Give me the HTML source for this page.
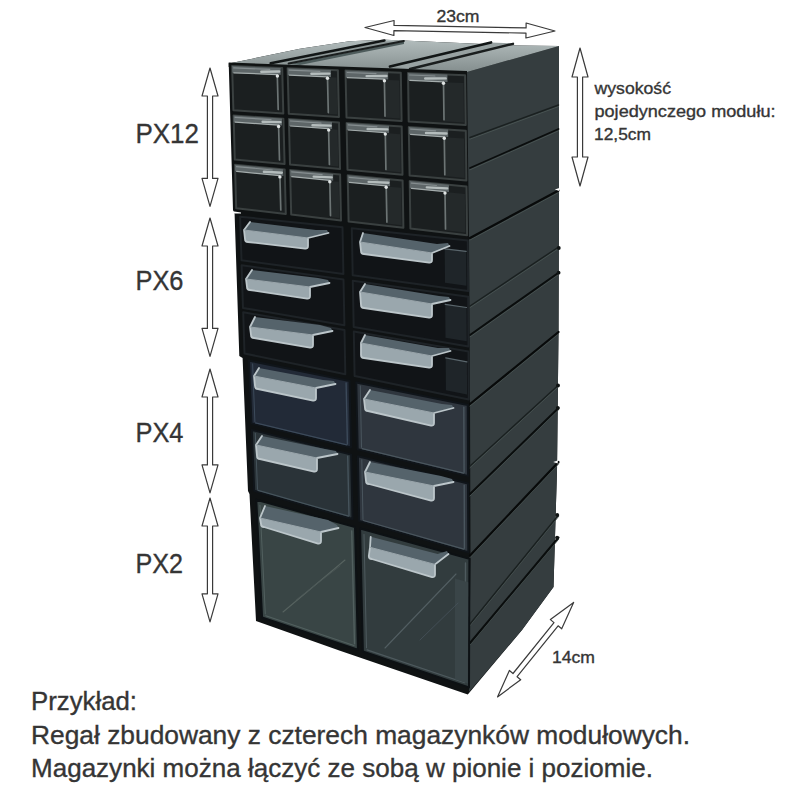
<!DOCTYPE html>
<html><head><meta charset="utf-8"><title>Regał</title>
<style>
html,body{margin:0;padding:0;background:#fff;width:800px;height:800px;overflow:hidden}
svg{display:block}
text{font-family:"Liberation Sans",sans-serif;fill:#353535;stroke:#353535;stroke-width:0.35px}
</style></head><body>
<svg width="800" height="800" viewBox="0 0 800 800">
<defs><linearGradient id="gtop" gradientUnits="userSpaceOnUse" x1="0" y1="40" x2="0" y2="72"><stop offset="0" stop-color="#b2bcbc"/><stop offset="1" stop-color="#848e8e"/></linearGradient></defs>
<rect width="800" height="800" fill="#fff"/>
<g id="cab">
<polygon points="228.7,63.0 233.0,210.0 234.6,214.0 239.3,356.0 242.6,358.0 248.0,491.0 249.5,494.0 256.0,621.0 340.0,650.8 467.8,694.5 522.0,630.0 553.5,587.0 557.0,470.0 558.5,332.0 559.0,190.0 559.0,46.0 515.0,45.5 460.0,42.9 385.5,39.8 349.5,41.2 300.0,48.8 229.0,63.5" fill="#0f1213" />
<polygon points="232.5,211.2 241.0,212.6 241.0,213.6 233.5,213.4" fill="#ffffff" />
<polygon points="467.0,72.0 559.0,46.0 559.0,190.0 558.5,332.0 557.0,470.0 553.5,587.0 522.0,630.0 469.0,692.0 470.5,555.0 470.0,404.0 469.0,238.0" fill="#353d3f" />
<polygon points="229.0,63.5 300.0,48.8 349.5,41.2 385.5,39.8 460.0,42.9 515.0,45.5 559.0,46.0 467.0,72.0 228.7,64.0" fill="url(#gtop)" />
<polygon points="273.0,63.5 386.0,41.5 403.0,41.5 288.7,63.5" fill="#8c9696" />
<polygon points="392.0,66.0 491.0,42.5 513.0,43.5 410.0,69.0" fill="#98a2a2" />
<polygon points="290.0,64.0 404.0,41.5 404.0,44.0 300.0,65.0" fill="#4e5c5c" />
<line x1="270.7" y1="63.3" x2="384.4" y2="40.6" stroke="#121616" stroke-width="2.6" stroke-linecap="round" />
<line x1="288.7" y1="63.5" x2="403.8" y2="41.0" stroke="#1a1e1e" stroke-width="2.2" stroke-linecap="round" />
<line x1="390.0" y1="66.5" x2="491.0" y2="42.5" stroke="#121616" stroke-width="2.8" stroke-linecap="round" />
<line x1="410.0" y1="69.0" x2="513.0" y2="43.8" stroke="#1a1e1e" stroke-width="2.4" stroke-linecap="round" />
<polygon points="228.7,62.5 467.0,71.0 467.0,75.0 228.7,67.0" fill="#101313" />
<line x1="470.0" y1="139.1" x2="558.5" y2="106.6" stroke="#475251" stroke-width="1.0" stroke-linecap="round" />
<line x1="470.0" y1="137.5" x2="558.5" y2="105.0" stroke="#1a2020" stroke-width="1.4" stroke-linecap="round" />
<line x1="470.0" y1="169.8" x2="558.5" y2="130.8" stroke="#475251" stroke-width="1.0" stroke-linecap="round" />
<line x1="470.0" y1="168.0" x2="558.5" y2="129.0" stroke="#0a0d0d" stroke-width="1.8" stroke-linecap="round" />
<line x1="470.0" y1="240.0" x2="558.5" y2="192.5" stroke="#475251" stroke-width="1.0" stroke-linecap="round" />
<line x1="470.0" y1="238.0" x2="558.5" y2="190.5" stroke="#080a0a" stroke-width="2.2" stroke-linecap="round" />
<line x1="470.0" y1="307.6" x2="558.5" y2="248.6" stroke="#475251" stroke-width="1.0" stroke-linecap="round" />
<line x1="470.0" y1="306.0" x2="558.5" y2="247.0" stroke="#1a2020" stroke-width="1.4" stroke-linecap="round" />
<line x1="470.0" y1="336.9" x2="558.5" y2="274.6" stroke="#475251" stroke-width="1.0" stroke-linecap="round" />
<line x1="470.0" y1="335.0" x2="558.5" y2="272.7" stroke="#0a0d0d" stroke-width="2.0" stroke-linecap="round" />
<line x1="470.0" y1="406.0" x2="558.5" y2="334.0" stroke="#475251" stroke-width="1.0" stroke-linecap="round" />
<line x1="470.0" y1="404.0" x2="558.5" y2="332.0" stroke="#080a0a" stroke-width="2.2" stroke-linecap="round" />
<line x1="470.0" y1="467.6" x2="558.5" y2="386.6" stroke="#475251" stroke-width="1.0" stroke-linecap="round" />
<line x1="470.0" y1="466.0" x2="558.5" y2="385.0" stroke="#1a2020" stroke-width="1.4" stroke-linecap="round" />
<line x1="470.0" y1="495.9" x2="558.5" y2="409.9" stroke="#475251" stroke-width="1.0" stroke-linecap="round" />
<line x1="470.0" y1="494.0" x2="558.5" y2="408.0" stroke="#0a0d0d" stroke-width="2.0" stroke-linecap="round" />
<line x1="470.0" y1="557.5" x2="558.5" y2="464.0" stroke="#475251" stroke-width="1.0" stroke-linecap="round" />
<line x1="470.0" y1="555.5" x2="558.5" y2="462.0" stroke="#080a0a" stroke-width="2.2" stroke-linecap="round" />
<line x1="470.0" y1="625.6" x2="558.5" y2="516.6" stroke="#475251" stroke-width="1.0" stroke-linecap="round" />
<line x1="470.0" y1="624.0" x2="558.5" y2="515.0" stroke="#1a2020" stroke-width="1.4" stroke-linecap="round" />
<line x1="470.0" y1="644.9" x2="558.5" y2="539.4" stroke="#475251" stroke-width="1.0" stroke-linecap="round" />
<line x1="470.0" y1="643.0" x2="558.5" y2="537.5" stroke="#0a0d0d" stroke-width="2.0" stroke-linecap="round" />
<circle cx="558.8" cy="248.0" r="1.9" fill="#101414"/>
<circle cx="558.6" cy="272.7" r="1.9" fill="#101414"/>
<circle cx="558.0" cy="385.5" r="1.9" fill="#101414"/>
<circle cx="557.8" cy="408.0" r="1.9" fill="#101414"/>
<circle cx="557.2" cy="515.0" r="1.9" fill="#101414"/>
<circle cx="557.0" cy="537.7" r="1.9" fill="#101414"/>
<polygon points="559.3,187.9 554.8,189.5 559.3,191.1" fill="#ffffff" />
<polygon points="557.7,460.4 553.2,462.0 557.7,463.6" fill="#ffffff" />
<polygon points="232.1,66.1 282.2,68.0 283.3,113.4 233.4,110.3" fill="#1b1f20" stroke="#3a4040" stroke-width="2.0" stroke-linejoin="round" />
<polygon points="232.1,66.1 280.7,68.0 280.8,74.8 232.3,72.7" fill="#5e6668" />
<line x1="233.7" y1="67.9" x2="269.7" y2="69.4" stroke="#858d8f" stroke-width="1.2" stroke-linecap="round" />
<line x1="261.3" y1="71.7" x2="279.2" y2="71.5" stroke="#b4bcbc" stroke-width="2.4" stroke-linecap="round" />
<line x1="233.8" y1="72.8" x2="277.3" y2="74.6" stroke="#a4acac" stroke-width="1.2" stroke-linecap="round" />
<line x1="277.3" y1="75.5" x2="278.2" y2="109.5" stroke="#6c7474" stroke-width="1.7" stroke-linecap="round" />
<circle cx="277.4" cy="76.0" r="1.7" fill="#e0e4e4"/>
<polygon points="287.6,68.3 337.9,70.2 338.9,116.9 288.8,113.8" fill="#1b1f20" stroke="#3a4040" stroke-width="2.0" stroke-linejoin="round" />
<polygon points="327.5,77.3 336.6,77.6 337.3,114.5 328.3,114.0" fill="#24292a" />
<polygon points="287.6,68.3 330.9,70.0 331.0,76.9 287.8,75.1" fill="#5e6668" />
<line x1="289.2" y1="70.1" x2="319.8" y2="71.4" stroke="#858d8f" stroke-width="1.2" stroke-linecap="round" />
<line x1="311.4" y1="73.8" x2="329.4" y2="73.6" stroke="#b4bcbc" stroke-width="2.4" stroke-linecap="round" />
<line x1="289.3" y1="75.1" x2="327.5" y2="76.8" stroke="#a4acac" stroke-width="1.2" stroke-linecap="round" />
<line x1="327.5" y1="77.7" x2="328.3" y2="112.6" stroke="#6c7474" stroke-width="1.7" stroke-linecap="round" />
<circle cx="327.5" cy="78.2" r="1.7" fill="#e0e4e4"/>
<polygon points="345.5,70.5 400.8,72.7 401.6,120.9 346.5,117.4" fill="#1b1f20" stroke="#3a4040" stroke-width="2.0" stroke-linejoin="round" />
<polygon points="384.4,79.7 399.3,80.4 399.9,118.4 385.0,117.5" fill="#24292a" />
<polygon points="345.5,70.5 388.1,72.2 388.2,79.4 345.7,77.6" fill="#5e6668" />
<line x1="347.2" y1="72.5" x2="376.0" y2="73.6" stroke="#858d8f" stroke-width="1.2" stroke-linecap="round" />
<line x1="366.6" y1="76.1" x2="386.5" y2="76.0" stroke="#b4bcbc" stroke-width="2.4" stroke-linecap="round" />
<line x1="347.3" y1="77.6" x2="384.3" y2="79.2" stroke="#a4acac" stroke-width="1.2" stroke-linecap="round" />
<line x1="384.4" y1="80.2" x2="385.0" y2="116.1" stroke="#6c7474" stroke-width="1.7" stroke-linecap="round" />
<circle cx="384.4" cy="80.7" r="1.7" fill="#e0e4e4"/>
<polygon points="408.0,73.0 465.1,75.2 465.7,125.0 408.7,121.4" fill="#1b1f20" stroke="#3a4040" stroke-width="2.0" stroke-linejoin="round" />
<polygon points="443.5,82.3 463.5,83.1 464.0,122.4 444.0,121.2" fill="#24292a" />
<polygon points="408.0,73.0 447.4,74.5 447.5,81.9 408.1,80.3" fill="#5e6668" />
<line x1="409.7" y1="75.0" x2="434.9" y2="76.0" stroke="#858d8f" stroke-width="1.2" stroke-linecap="round" />
<line x1="425.2" y1="78.5" x2="445.7" y2="78.4" stroke="#b4bcbc" stroke-width="2.4" stroke-linecap="round" />
<line x1="409.8" y1="80.3" x2="443.5" y2="81.8" stroke="#a4acac" stroke-width="1.2" stroke-linecap="round" />
<line x1="443.5" y1="82.8" x2="444.0" y2="119.7" stroke="#6c7474" stroke-width="1.7" stroke-linecap="round" />
<circle cx="443.5" cy="83.3" r="1.7" fill="#e0e4e4"/>
<polygon points="233.6,115.4 283.4,118.7 284.6,164.1 234.8,159.6" fill="#1b1f20" stroke="#3a4040" stroke-width="2.0" stroke-linejoin="round" />
<polygon points="233.6,115.4 281.9,118.6 282.1,125.4 233.7,122.0" fill="#5e6668" />
<line x1="235.1" y1="117.3" x2="271.0" y2="119.7" stroke="#858d8f" stroke-width="1.2" stroke-linecap="round" />
<line x1="262.6" y1="121.8" x2="280.5" y2="122.1" stroke="#b4bcbc" stroke-width="2.4" stroke-linecap="round" />
<line x1="235.2" y1="122.1" x2="278.6" y2="125.2" stroke="#a4acac" stroke-width="1.2" stroke-linecap="round" />
<line x1="278.6" y1="126.1" x2="279.5" y2="160.0" stroke="#6c7474" stroke-width="1.7" stroke-linecap="round" />
<circle cx="278.6" cy="126.5" r="1.7" fill="#e0e4e4"/>
<polygon points="288.9,119.1 339.0,122.4 340.0,169.1 290.0,164.6" fill="#1b1f20" stroke="#3a4040" stroke-width="2.0" stroke-linejoin="round" />
<polygon points="328.6,129.1 337.6,129.8 338.4,166.6 329.4,165.8" fill="#24292a" />
<polygon points="288.9,119.1 332.0,121.9 332.1,128.9 289.1,125.9" fill="#5e6668" />
<line x1="290.4" y1="121.0" x2="321.0" y2="123.1" stroke="#858d8f" stroke-width="1.2" stroke-linecap="round" />
<line x1="312.5" y1="125.2" x2="330.6" y2="125.6" stroke="#b4bcbc" stroke-width="2.4" stroke-linecap="round" />
<line x1="290.6" y1="126.0" x2="328.6" y2="128.7" stroke="#a4acac" stroke-width="1.2" stroke-linecap="round" />
<line x1="328.6" y1="129.6" x2="329.4" y2="164.4" stroke="#6c7474" stroke-width="1.7" stroke-linecap="round" />
<circle cx="328.7" cy="130.1" r="1.7" fill="#e0e4e4"/>
<polygon points="346.6,122.9 401.7,126.6 402.5,174.8 347.5,169.8" fill="#1b1f20" stroke="#3a4040" stroke-width="2.0" stroke-linejoin="round" />
<polygon points="385.3,133.1 400.2,134.2 400.8,172.2 386.0,170.9" fill="#24292a" />
<polygon points="346.6,122.9 389.0,125.7 389.1,132.9 346.7,129.9" fill="#5e6668" />
<line x1="348.3" y1="124.9" x2="376.9" y2="126.8" stroke="#858d8f" stroke-width="1.2" stroke-linecap="round" />
<line x1="367.6" y1="129.0" x2="387.4" y2="129.4" stroke="#b4bcbc" stroke-width="2.4" stroke-linecap="round" />
<line x1="348.4" y1="130.0" x2="385.3" y2="132.6" stroke="#a4acac" stroke-width="1.2" stroke-linecap="round" />
<line x1="385.3" y1="133.6" x2="385.9" y2="169.5" stroke="#6c7474" stroke-width="1.7" stroke-linecap="round" />
<circle cx="385.3" cy="134.1" r="1.7" fill="#e0e4e4"/>
<polygon points="408.8,127.0 465.8,130.8 466.4,180.6 409.6,175.4" fill="#1b1f20" stroke="#3a4040" stroke-width="2.0" stroke-linejoin="round" />
<polygon points="444.3,137.2 464.2,138.6 464.7,177.9 444.8,176.1" fill="#24292a" />
<polygon points="408.8,127.0 448.1,129.6 448.2,137.0 408.9,134.3" fill="#5e6668" />
<line x1="410.6" y1="129.1" x2="435.6" y2="130.8" stroke="#858d8f" stroke-width="1.2" stroke-linecap="round" />
<line x1="426.0" y1="133.0" x2="446.5" y2="133.5" stroke="#b4bcbc" stroke-width="2.4" stroke-linecap="round" />
<line x1="410.6" y1="134.4" x2="444.3" y2="136.8" stroke="#a4acac" stroke-width="1.2" stroke-linecap="round" />
<line x1="444.3" y1="137.7" x2="444.8" y2="174.7" stroke="#6c7474" stroke-width="1.7" stroke-linecap="round" />
<circle cx="444.3" cy="138.2" r="1.7" fill="#e0e4e4"/>
<polygon points="235.0,164.7 284.7,169.4 285.8,214.0 236.2,208.2" fill="#1b1f20" stroke="#3a4040" stroke-width="2.0" stroke-linejoin="round" />
<polygon points="235.0,164.7 283.2,169.2 283.4,175.9 235.2,171.3" fill="#5e6668" />
<line x1="236.5" y1="166.6" x2="272.3" y2="170.0" stroke="#858d8f" stroke-width="1.2" stroke-linecap="round" />
<line x1="263.9" y1="171.8" x2="281.8" y2="172.7" stroke="#b4bcbc" stroke-width="2.4" stroke-linecap="round" />
<line x1="236.7" y1="171.4" x2="279.9" y2="175.6" stroke="#a4acac" stroke-width="1.2" stroke-linecap="round" />
<line x1="279.9" y1="176.5" x2="280.8" y2="209.9" stroke="#6c7474" stroke-width="1.7" stroke-linecap="round" />
<circle cx="279.9" cy="176.9" r="1.7" fill="#e0e4e4"/>
<polygon points="290.1,169.9 340.1,174.6 341.0,220.5 291.2,214.6" fill="#1b1f20" stroke="#3a4040" stroke-width="2.0" stroke-linejoin="round" />
<polygon points="329.8,180.9 338.7,181.8 339.5,218.0 330.5,217.0" fill="#24292a" />
<polygon points="290.1,169.9 333.1,173.9 333.2,180.8 290.3,176.6" fill="#5e6668" />
<line x1="291.7" y1="171.8" x2="322.1" y2="174.7" stroke="#858d8f" stroke-width="1.2" stroke-linecap="round" />
<line x1="313.7" y1="176.6" x2="331.7" y2="177.4" stroke="#b4bcbc" stroke-width="2.4" stroke-linecap="round" />
<line x1="291.8" y1="176.7" x2="329.7" y2="180.4" stroke="#a4acac" stroke-width="1.2" stroke-linecap="round" />
<line x1="329.8" y1="181.3" x2="330.5" y2="215.6" stroke="#6c7474" stroke-width="1.7" stroke-linecap="round" />
<circle cx="329.8" cy="181.8" r="1.7" fill="#e0e4e4"/>
<polygon points="347.7,175.3 402.6,180.4 403.4,227.8 348.6,221.4" fill="#1b1f20" stroke="#3a4040" stroke-width="2.0" stroke-linejoin="round" />
<polygon points="386.2,186.4 401.1,187.8 401.7,225.2 386.9,223.5" fill="#24292a" />
<polygon points="347.7,175.3 389.9,179.2 390.1,186.3 347.8,182.2" fill="#5e6668" />
<line x1="349.3" y1="177.3" x2="377.9" y2="180.0" stroke="#858d8f" stroke-width="1.2" stroke-linecap="round" />
<line x1="368.6" y1="181.9" x2="388.4" y2="182.8" stroke="#b4bcbc" stroke-width="2.4" stroke-linecap="round" />
<line x1="349.4" y1="182.3" x2="386.2" y2="185.9" stroke="#a4acac" stroke-width="1.2" stroke-linecap="round" />
<line x1="386.2" y1="186.8" x2="386.9" y2="222.1" stroke="#6c7474" stroke-width="1.7" stroke-linecap="round" />
<circle cx="386.2" cy="187.3" r="1.7" fill="#e0e4e4"/>
<polygon points="409.7,181.1 466.5,186.4 467.1,235.3 410.4,228.6" fill="#1b1f20" stroke="#3a4040" stroke-width="2.0" stroke-linejoin="round" />
<polygon points="445.0,192.1 464.9,194.0 465.4,232.6 445.5,230.3" fill="#24292a" />
<polygon points="409.7,181.1 448.9,184.7 449.0,192.0 409.8,188.2" fill="#5e6668" />
<line x1="411.4" y1="183.1" x2="436.4" y2="185.5" stroke="#858d8f" stroke-width="1.2" stroke-linecap="round" />
<line x1="426.8" y1="187.4" x2="447.2" y2="188.4" stroke="#b4bcbc" stroke-width="2.4" stroke-linecap="round" />
<line x1="411.5" y1="188.4" x2="445.0" y2="191.6" stroke="#a4acac" stroke-width="1.2" stroke-linecap="round" />
<line x1="445.0" y1="192.6" x2="445.5" y2="228.9" stroke="#6c7474" stroke-width="1.7" stroke-linecap="round" />
<circle cx="445.0" cy="193.1" r="1.7" fill="#e0e4e4"/>
<polygon points="240.1,216.7 342.5,227.3 343.4,274.0 241.5,260.2" fill="#111417" stroke="#1e2327" stroke-width="2.0" stroke-linejoin="round" />
<polygon points="241.6,265.2 343.5,279.4 344.4,325.3 243.0,307.9" fill="#111417" stroke="#1e2327" stroke-width="2.0" stroke-linejoin="round" />
<polygon points="243.2,312.2 344.5,329.9 345.3,374.3 244.5,353.5" fill="#111417" stroke="#1e2327" stroke-width="2.0" stroke-linejoin="round" />
<polygon points="351.8,228.3 467.8,240.4 468.2,291.0 352.7,275.3" fill="#111417" stroke="#1e2327" stroke-width="2.0" stroke-linejoin="round" />
<polygon points="352.8,280.7 468.2,296.8 468.5,346.5 353.7,326.9" fill="#111417" stroke="#1e2327" stroke-width="2.0" stroke-linejoin="round" />
<polygon points="353.8,331.5 468.5,351.5 468.8,399.6 354.6,376.1" fill="#111417" stroke="#1e2327" stroke-width="2.0" stroke-linejoin="round" />
<polygon points="444.7,248.9 466.2,251.3 466.4,285.7 445.0,282.8" fill="#1f2529" />
<line x1="444.7" y1="248.9" x2="466.2" y2="251.3" stroke="#5a666c" stroke-width="1.2" stroke-linecap="round" />
<polygon points="445.2,304.3 466.5,307.5 466.7,341.3 445.5,337.7" fill="#1f2529" />
<line x1="445.2" y1="304.3" x2="466.5" y2="307.5" stroke="#5a666c" stroke-width="1.2" stroke-linecap="round" />
<polygon points="445.7,357.9 466.9,361.8 467.1,394.5 445.9,390.2" fill="#1f2529" />
<line x1="445.7" y1="357.9" x2="466.9" y2="361.8" stroke="#5a666c" stroke-width="1.2" stroke-linecap="round" />
<polygon points="250.0,222.0 316.0,230.0 327.0,230.0 328.5,233.0 311.0,237.0 308.0,238.0 244.0,230.0" fill="#55636b" />
<path d="M244.0,230.0 L308.0,238.0 L308.0,246.0 Q308.0,249.0 305.0,248.6 L248.0,242.0 Q245.0,242.0 245.0,239.0 Z" fill="#9aa7ad" />
<path d="M250.0,222.0 L244.0,230.0 L245.0,239.0 Q245.0,242.0 248.0,242.0 L305.0,248.6 Q308.0,249.0 308.0,246.0 L308.0,238.0 L328.5,233.0" fill="none" stroke="#bcc6ca" stroke-width="1.8" stroke-linejoin="round" stroke-linecap="round" />
<line x1="244.0" y1="230.0" x2="308.0" y2="238.0" stroke="#9aa6ac" stroke-width="1.0" stroke-linecap="round" />
<polygon points="252.0,270.0 318.0,278.0 328.0,280.0 329.5,283.0 313.0,286.0 310.0,287.0 246.0,279.0" fill="#55636b" />
<path d="M246.0,279.0 L310.0,287.0 L310.0,296.0 Q310.0,299.0 307.0,298.6 L250.0,290.0 Q247.0,290.0 247.0,287.0 Z" fill="#9aa7ad" />
<path d="M252.0,270.0 L246.0,279.0 L247.0,287.0 Q247.0,290.0 250.0,290.0 L307.0,298.6 Q310.0,299.0 310.0,296.0 L310.0,287.0 L329.5,283.0" fill="none" stroke="#bcc6ca" stroke-width="1.8" stroke-linejoin="round" stroke-linecap="round" />
<line x1="246.0" y1="279.0" x2="310.0" y2="287.0" stroke="#9aa6ac" stroke-width="1.0" stroke-linecap="round" />
<polygon points="255.0,317.0 320.0,325.0 331.0,328.0 332.5,331.0 316.0,334.0 313.0,335.0 250.0,327.0" fill="#55636b" />
<path d="M250.0,327.0 L313.0,335.0 L313.0,345.0 Q313.0,348.0 310.0,347.6 L254.0,338.0 Q251.0,338.0 251.0,335.0 Z" fill="#9aa7ad" />
<path d="M255.0,317.0 L250.0,327.0 L251.0,335.0 Q251.0,338.0 254.0,338.0 L310.0,347.6 Q313.0,348.0 313.0,345.0 L313.0,335.0 L332.5,331.0" fill="none" stroke="#bcc6ca" stroke-width="1.8" stroke-linejoin="round" stroke-linecap="round" />
<line x1="250.0" y1="327.0" x2="313.0" y2="335.0" stroke="#9aa6ac" stroke-width="1.0" stroke-linecap="round" />
<polygon points="363.0,233.0 437.0,244.0 448.0,243.0 449.5,246.0 435.0,252.0 432.0,253.0 360.0,242.0" fill="#55636b" />
<path d="M360.0,242.0 L432.0,253.0 L432.0,260.0 Q432.0,263.0 429.0,262.6 L364.0,254.0 Q361.0,254.0 361.0,251.0 Z" fill="#9aa7ad" />
<path d="M363.0,233.0 L360.0,242.0 L361.0,251.0 Q361.0,254.0 364.0,254.0 L429.0,262.6 Q432.0,263.0 432.0,260.0 L432.0,253.0 L449.5,246.0" fill="none" stroke="#bcc6ca" stroke-width="1.8" stroke-linejoin="round" stroke-linecap="round" />
<line x1="360.0" y1="242.0" x2="432.0" y2="253.0" stroke="#9aa6ac" stroke-width="1.0" stroke-linecap="round" />
<polygon points="365.0,284.0 439.0,296.0 449.0,297.0 450.5,300.0 435.0,303.0 432.0,304.0 360.0,292.0" fill="#55636b" />
<path d="M360.0,292.0 L432.0,304.0 L432.0,315.0 Q432.0,318.0 429.0,317.6 L364.0,308.0 Q361.0,308.0 361.0,305.0 Z" fill="#9aa7ad" />
<path d="M365.0,284.0 L360.0,292.0 L361.0,305.0 Q361.0,308.0 364.0,308.0 L429.0,317.6 Q432.0,318.0 432.0,315.0 L432.0,304.0 L450.5,300.0" fill="none" stroke="#bcc6ca" stroke-width="1.8" stroke-linejoin="round" stroke-linecap="round" />
<line x1="360.0" y1="292.0" x2="432.0" y2="304.0" stroke="#9aa6ac" stroke-width="1.0" stroke-linecap="round" />
<polygon points="365.0,335.0 438.0,348.0 449.0,348.0 450.5,351.0 435.0,355.0 432.0,356.0 361.0,343.0" fill="#55636b" />
<path d="M361.0,343.0 L432.0,356.0 L432.0,365.0 Q432.0,368.0 429.0,367.6 L364.0,358.0 Q361.0,358.0 361.0,355.0 Z" fill="#9aa7ad" />
<path d="M365.0,335.0 L361.0,343.0 L361.0,355.0 Q361.0,358.0 364.0,358.0 L429.0,367.6 Q432.0,368.0 432.0,365.0 L432.0,356.0 L450.5,351.0" fill="none" stroke="#bcc6ca" stroke-width="1.8" stroke-linejoin="round" stroke-linecap="round" />
<line x1="361.0" y1="343.0" x2="432.0" y2="356.0" stroke="#9aa6ac" stroke-width="1.0" stroke-linecap="round" />
<polygon points="249.0,360.6 349.5,381.0 351.0,447.5 251.5,423.4" fill="#222a37" stroke="#10151a" stroke-width="2.0" stroke-linejoin="round" />
<line x1="346.1" y1="383.0" x2="347.4" y2="444.0" stroke="#3c4a5a" stroke-width="1.4" stroke-linecap="round" />
<line x1="252.6" y1="363.9" x2="254.9" y2="421.7" stroke="#3c4a5a" stroke-width="1.0" stroke-linecap="round" />
<line x1="255.4" y1="422.8" x2="346.9" y2="444.9" stroke="#3c4a5a" stroke-width="1.2" stroke-linecap="round" />
<polygon points="251.8,430.0 351.1,454.6 352.5,519.0 254.2,490.8" fill="#2a3338" stroke="#10151a" stroke-width="2.0" stroke-linejoin="round" />
<line x1="347.7" y1="456.3" x2="349.0" y2="515.4" stroke="#46545c" stroke-width="1.4" stroke-linecap="round" />
<line x1="255.3" y1="433.3" x2="257.5" y2="489.3" stroke="#46545c" stroke-width="1.0" stroke-linecap="round" />
<line x1="258.0" y1="490.4" x2="348.6" y2="516.2" stroke="#46545c" stroke-width="1.2" stroke-linecap="round" />
<polygon points="356.3,382.4 467.7,405.0 468.0,475.9 357.7,449.2" fill="#2f363e" stroke="#10151a" stroke-width="2.0" stroke-linejoin="round" />
<line x1="463.8" y1="407.1" x2="464.1" y2="472.2" stroke="#4a565e" stroke-width="1.4" stroke-linecap="round" />
<line x1="360.3" y1="385.9" x2="361.5" y2="447.4" stroke="#4a565e" stroke-width="1.0" stroke-linecap="round" />
<line x1="362.1" y1="448.6" x2="463.6" y2="473.1" stroke="#4a565e" stroke-width="1.2" stroke-linecap="round" />
<polygon points="357.9,456.3 468.0,483.5 468.3,552.1 359.2,520.9" fill="#2f363e" stroke="#10151a" stroke-width="2.0" stroke-linejoin="round" />
<line x1="464.2" y1="485.3" x2="464.4" y2="548.3" stroke="#4a565e" stroke-width="1.4" stroke-linecap="round" />
<line x1="361.8" y1="459.8" x2="363.0" y2="519.4" stroke="#4a565e" stroke-width="1.0" stroke-linecap="round" />
<line x1="363.5" y1="520.5" x2="463.9" y2="549.1" stroke="#4a565e" stroke-width="1.2" stroke-linecap="round" />
<polygon points="259.0,368.0 323.0,380.0 334.0,381.0 335.5,384.0 319.0,387.0 316.0,388.0 254.0,376.0" fill="#55636b" />
<path d="M254.0,376.0 L316.0,388.0 L316.0,398.0 Q316.0,401.0 313.0,400.6 L258.0,389.0 Q255.0,389.0 255.0,386.0 Z" fill="#9aa7ad" />
<path d="M259.0,368.0 L254.0,376.0 L255.0,386.0 Q255.0,389.0 258.0,389.0 L313.0,400.6 Q316.0,401.0 316.0,398.0 L316.0,388.0 L335.5,384.0" fill="none" stroke="#bcc6ca" stroke-width="1.8" stroke-linejoin="round" stroke-linecap="round" />
<line x1="254.0" y1="376.0" x2="316.0" y2="388.0" stroke="#9aa6ac" stroke-width="1.0" stroke-linecap="round" />
<polygon points="262.0,436.0 325.0,449.0 336.0,451.0 337.5,454.0 320.0,457.0 317.0,458.0 256.0,445.0" fill="#55636b" />
<path d="M256.0,445.0 L317.0,458.0 L317.0,469.0 Q317.0,472.0 314.0,471.6 L260.0,459.0 Q257.0,459.0 257.0,456.0 Z" fill="#9aa7ad" />
<path d="M262.0,436.0 L256.0,445.0 L257.0,456.0 Q257.0,459.0 260.0,459.0 L314.0,471.6 Q317.0,472.0 317.0,469.0 L317.0,458.0 L337.5,454.0" fill="none" stroke="#bcc6ca" stroke-width="1.8" stroke-linejoin="round" stroke-linecap="round" />
<line x1="256.0" y1="445.0" x2="317.0" y2="458.0" stroke="#9aa6ac" stroke-width="1.0" stroke-linecap="round" />
<polygon points="370.0,390.0 442.0,404.0 452.0,405.0 453.5,408.0 437.0,412.0 434.0,413.0 364.0,399.0" fill="#55636b" />
<path d="M364.0,399.0 L434.0,413.0 L434.0,423.0 Q434.0,426.0 431.0,425.6 L368.0,411.0 Q365.0,411.0 365.0,408.0 Z" fill="#9aa7ad" />
<path d="M370.0,390.0 L364.0,399.0 L365.0,408.0 Q365.0,411.0 368.0,411.0 L431.0,425.6 Q434.0,426.0 434.0,423.0 L434.0,413.0 L453.5,408.0" fill="none" stroke="#bcc6ca" stroke-width="1.8" stroke-linejoin="round" stroke-linecap="round" />
<line x1="364.0" y1="399.0" x2="434.0" y2="413.0" stroke="#9aa6ac" stroke-width="1.0" stroke-linecap="round" />
<polygon points="370.0,462.0 441.0,476.0 452.0,479.0 453.5,482.0 437.0,485.0 434.0,486.0 365.0,472.0" fill="#55636b" />
<path d="M365.0,472.0 L434.0,486.0 L434.0,498.0 Q434.0,501.0 431.0,500.6 L369.0,484.0 Q366.0,484.0 366.0,481.0 Z" fill="#9aa7ad" />
<path d="M370.0,462.0 L365.0,472.0 L366.0,481.0 Q366.0,484.0 369.0,484.0 L431.0,500.6 Q434.0,501.0 434.0,498.0 L434.0,486.0 L453.5,482.0" fill="none" stroke="#bcc6ca" stroke-width="1.8" stroke-linejoin="round" stroke-linecap="round" />
<line x1="365.0" y1="472.0" x2="434.0" y2="486.0" stroke="#9aa6ac" stroke-width="1.0" stroke-linecap="round" />
<polygon points="256.3,499.7 355.0,527.1 357.9,649.8 262.1,617.5" fill="#394545" stroke="#0d1114" stroke-width="2.0" stroke-linejoin="round" />
<line x1="351.7" y1="531.0" x2="354.5" y2="643.8" stroke="#52605f" stroke-width="1.4" stroke-linecap="round" />
<line x1="260.0" y1="505.3" x2="265.3" y2="613.9" stroke="#52605f" stroke-width="1.0" stroke-linecap="round" />
<line x1="265.8" y1="615.8" x2="354.0" y2="645.5" stroke="#52605f" stroke-width="1.2" stroke-linecap="round" />
<polygon points="360.1,528.5 469.4,558.9 469.0,687.4 362.9,651.5" fill="#323c3e" stroke="#0d1114" stroke-width="2.0" stroke-linejoin="round" />
<line x1="465.5" y1="562.9" x2="465.3" y2="681.0" stroke="#4e5a5e" stroke-width="1.4" stroke-linecap="round" />
<line x1="364.0" y1="534.5" x2="366.5" y2="647.8" stroke="#4e5a5e" stroke-width="1.0" stroke-linecap="round" />
<line x1="367.0" y1="649.9" x2="464.7" y2="682.7" stroke="#4e5a5e" stroke-width="1.2" stroke-linecap="round" />
<polygon points="455.0,578.4 468.2,582.2 467.9,683.5 455.0,679.2" fill="#3a4548" />
<line x1="283.0" y1="612.0" x2="345.0" y2="560.0" stroke="#56625f" stroke-width="1.1" stroke-linecap="round" />
<line x1="296.0" y1="600.0" x2="340.0" y2="566.0" stroke="#4a5655" stroke-width="0.8" stroke-linecap="round" />
<line x1="385.0" y1="648.0" x2="456.0" y2="574.0" stroke="#525e62" stroke-width="1.1" stroke-linecap="round" />
<line x1="420.0" y1="640.0" x2="458.0" y2="603.0" stroke="#46525a" stroke-width="0.8" stroke-linecap="round" />
<polygon points="265.0,506.0 328.0,520.0 337.0,525.0 338.5,528.0 324.0,531.0 321.0,532.0 260.0,518.0" fill="#55636b" />
<path d="M260.0,518.0 L321.0,532.0 L321.0,541.0 Q321.0,544.0 318.0,543.6 L264.0,527.0 Q261.0,527.0 261.0,524.0 Z" fill="#9aa7ad" />
<path d="M265.0,506.0 L260.0,518.0 L261.0,524.0 Q261.0,527.0 264.0,527.0 L318.0,543.6 Q321.0,544.0 321.0,541.0 L321.0,532.0 L338.5,528.0" fill="none" stroke="#bcc6ca" stroke-width="1.8" stroke-linejoin="round" stroke-linecap="round" />
<line x1="260.0" y1="518.0" x2="321.0" y2="532.0" stroke="#9aa6ac" stroke-width="1.0" stroke-linecap="round" />
<polygon points="370.7,536.8 437.7,553.9 447.0,551.0 448.5,554.0 438.0,563.4 435.0,564.4 370.0,547.3" fill="#55636b" />
<path d="M370.0,547.3 L435.0,564.4 L435.0,574.5 Q435.0,577.5 432.0,577.1 L371.8,559.0 Q368.8,559.0 368.8,556.0 Z" fill="#9aa7ad" />
<path d="M370.7,536.8 L370.0,547.3 L368.8,556.0 Q368.8,559.0 371.8,559.0 L432.0,577.1 Q435.0,577.5 435.0,574.5 L435.0,564.4 L448.5,554.0" fill="none" stroke="#bcc6ca" stroke-width="1.8" stroke-linejoin="round" stroke-linecap="round" />
<line x1="370.0" y1="547.3" x2="435.0" y2="564.4" stroke="#9aa6ac" stroke-width="1.0" stroke-linecap="round" />
</g>
<g id="arr">
<polygon points="210.0,68.0 202.0,96.0 207.4,96.0 207.4,178.4 202.0,178.4 210.0,206.4 218.0,178.4 212.6,178.4 212.6,96.0 218.0,96.0" fill="#fff" stroke="#3a3a3a" stroke-width="1.2" stroke-linejoin="round" />
<polygon points="210.0,218.0 202.0,246.0 207.4,246.0 207.4,328.4 202.0,328.4 210.0,356.4 218.0,328.4 212.6,328.4 212.6,246.0 218.0,246.0" fill="#fff" stroke="#3a3a3a" stroke-width="1.2" stroke-linejoin="round" />
<polygon points="210.0,369.0 202.0,397.0 207.4,397.0 207.4,464.9 202.0,464.9 210.0,492.9 218.0,464.9 212.6,464.9 212.6,397.0 218.0,397.0" fill="#fff" stroke="#3a3a3a" stroke-width="1.2" stroke-linejoin="round" />
<polygon points="210.0,498.0 202.0,526.0 207.4,526.0 207.4,593.8 202.0,593.8 210.0,621.8 218.0,593.8 212.6,593.8 212.6,526.0 218.0,526.0" fill="#fff" stroke="#3a3a3a" stroke-width="1.2" stroke-linejoin="round" />
<polygon points="580.0,48.0 572.0,77.0 577.4,77.0 577.4,157.0 572.0,157.0 580.0,186.0 588.0,157.0 582.6,157.0 582.6,77.0 588.0,77.0" fill="#fff" stroke="#3a3a3a" stroke-width="1.2" stroke-linejoin="round" />
<polygon points="365.0,27.5 393.9,35.5 393.9,30.6 526.0,33.1 525.9,38.0 555.0,31.0 526.1,23.0 526.1,27.9 394.0,25.4 394.1,20.5" fill="#fff" stroke="#3a3a3a" stroke-width="1.2" stroke-linejoin="round" />
<polygon points="573.6,602.4 550.4,619.6 554.0,622.6 513.0,673.5 509.4,670.5 497.5,696.9 520.7,679.7 517.1,676.7 558.1,625.8 561.7,628.8" fill="#fff" stroke="#3a3a3a" stroke-width="1.2" stroke-linejoin="round" />
</g>
<g id="txt">
<text x="436.5" y="22" font-size="16" textLength="43" lengthAdjust="spacingAndGlyphs">23cm</text>
<text x="594.5" y="93.8" font-size="17.2" textLength="76.5" lengthAdjust="spacingAndGlyphs">wysokość</text>
<text x="594.5" y="116.9" font-size="17.2" textLength="181" lengthAdjust="spacingAndGlyphs">pojedynczego modułu:</text>
<text x="594" y="139.9" font-size="17.2" textLength="57" lengthAdjust="spacingAndGlyphs">12,5cm</text>
<text x="135.5" y="143.1" font-size="28.3" textLength="63.5" lengthAdjust="spacingAndGlyphs">PX12</text>
<text x="135.5" y="290.4" font-size="28.3" textLength="48" lengthAdjust="spacingAndGlyphs">PX6</text>
<text x="135.5" y="442" font-size="28.3" textLength="48" lengthAdjust="spacingAndGlyphs">PX4</text>
<text x="135.5" y="573.4" font-size="28.3" textLength="47.5" lengthAdjust="spacingAndGlyphs">PX2</text>
<text x="552" y="663.1" font-size="17" textLength="43" lengthAdjust="spacingAndGlyphs">14cm</text>
<text x="31" y="709.8" font-size="26" textLength="106" lengthAdjust="spacingAndGlyphs">Przykład:</text>
<text x="31" y="743.6" font-size="26" textLength="659" lengthAdjust="spacingAndGlyphs">Regał zbudowany z czterech magazynków modułowych.</text>
<text x="31" y="777" font-size="26" textLength="622" lengthAdjust="spacingAndGlyphs">Magazynki można łączyć ze sobą w pionie i poziomie.</text>
</g>
</svg>
</body></html>
